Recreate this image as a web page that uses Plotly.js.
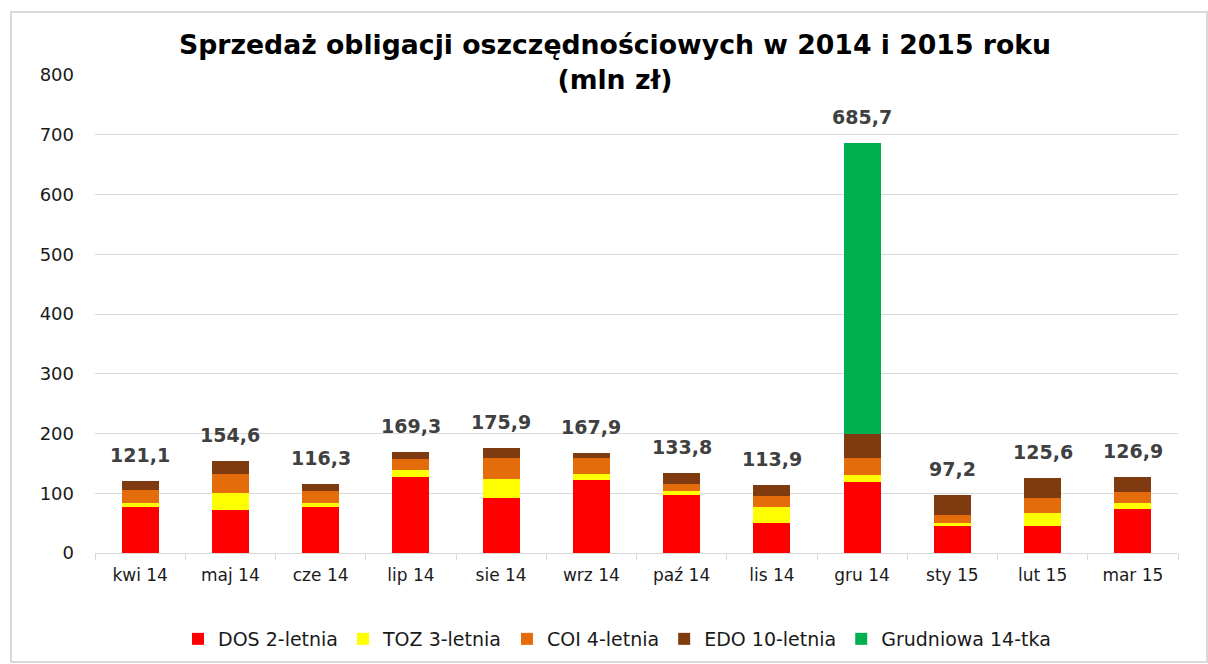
<!DOCTYPE html>
<html>
<head>
<meta charset="utf-8">
<script src="https://cdn.plot.ly/plotly-3.0.1.min.js"></script>
<style>
  html, body { margin: 0; padding: 0; background: #fff; }
  #wrap { position: relative; width: 1208px; height: 664px; }
  #chart { position: absolute; left: 0; top: 0; width: 1208px; height: 664px; }
  #frame { position: absolute; left: 10px; top: 11px; width: 1194px; height: 648px;
           border: 2px solid #D9D9D9; pointer-events: none; }
</style>
</head>
<body>
<div id="wrap">
  <div id="chart"></div>
  <div id="frame"></div>
</div>
<script>
const categories = ['kwi 14','maj 14','cze 14','lip 14','sie 14','wrz 14','paź 14','lis 14','gru 14','sty 15','lut 15','mar 15'];
const dos = [76.8, 71.8, 76.8, 127.7, 92.0, 122.7, 97.5, 49.9, 118.3, 44.9, 44.4, 74.0];
const toz = [6.2, 28.0, 6.2, 11.3, 32.4, 9.6, 6.2, 27.4, 12.3, 5.5, 22.3, 10.0];
const coi = [21.9, 32.0, 20.2, 18.0, 34.8, 26.9, 12.3, 18.5, 29.1, 12.5, 25.3, 17.5];
const edo = [16.2, 22.8, 13.1, 12.3, 16.7, 8.7, 17.8, 18.1, 39.8, 34.3, 33.6, 25.4];
const grudniowa = [null, null, null, null, null, null, null, null, 486.2, null, null, null];
const seriesNames = ['DOS 2-letnia', 'TOZ 3-letnia', 'COI 4-letnia', 'EDO 10-letnia', 'Grudniowa 14-tka'];
const yTicks = [0, 100, 200, 300, 400, 500, 600, 700, 800];

const seriesData = [dos, toz, coi, edo, grudniowa];
const colors = ['#FF0000', '#FFFF00', '#E46C0A', '#7F3A10', '#00B050'];

const traces = seriesData.map((vals, i) => ({
  type: 'bar',
  name: seriesNames[i],
  x: categories,
  y: vals,
  marker: { color: colors[i], line: { width: 0 } },
  hoverinfo: 'skip'
}));

const totals = categories.map((c, k) => seriesData.reduce((s, arr) => s + (arr[k] || 0), 0));

const annotations = categories.map((c, k) => ({
  x: c, y: totals[k], xref: 'x', yref: 'y',
  text: totals[k].toFixed(1).replace('.', ','),
  showarrow: false, yanchor: 'middle', yshift: 26,
  font: { family: 'DejaVu Sans', size: 19, color: '#404040', weight: 'bold' }
}));

const layout = {
  width: 1208, height: 664,
  margin: { l: 95, r: 30, t: 75, b: 111, autoexpand: false },
  paper_bgcolor: '#ffffff', plot_bgcolor: '#ffffff',
  barmode: 'stack', bargap: 0.59,
  title: {
    text: '<b>Sprzedaż obligacji oszczędnościowych w 2014 i 2015 roku<br>(mln zł)</b>',
    font: { family: 'DejaVu Sans', size: 26.7, color: '#000000' },
    x: 615 / 1208, xanchor: 'center', xref: 'container',
    y: 1 - 54 / 664, yanchor: 'top', yref: 'container'
  },
  xaxis: {
    type: 'category',
    showgrid: false, zeroline: false,
    showline: true, linecolor: '#D9D9D9', linewidth: 1,
    ticks: 'outside', tickson: 'boundaries', ticklen: 6, tickcolor: '#D9D9D9',
    tickfont: { family: 'DejaVu Sans', size: 17, color: '#1a1a1a' },
    ticklabelstandoff: 7
  },
  yaxis: {
    range: [0, 800], tickvals: yTicks, ticktext: yTicks.map(String),
    showgrid: true, gridcolor: '#D9D9D9', gridwidth: 1,
    zeroline: false, showline: false, ticks: '',
    tickfont: { family: 'DejaVu Sans', size: 18, color: '#1a1a1a' },
    ticklabelstandoff: 20
  },
  legend: {
    orientation: 'h', x: 617 / 1208, xanchor: 'center', xref: 'container',
    y: (664 - 639) / 664, yanchor: 'middle', yref: 'container',
    font: { family: 'DejaVu Sans', size: 19, color: '#1a1a1a' },
    traceorder: 'normal', itemclick: false
  },
  annotations: annotations,
  showlegend: true
};

Plotly.newPlot('chart', traces, layout, { displayModeBar: false, staticPlot: true });
</script>
</body>
</html>
